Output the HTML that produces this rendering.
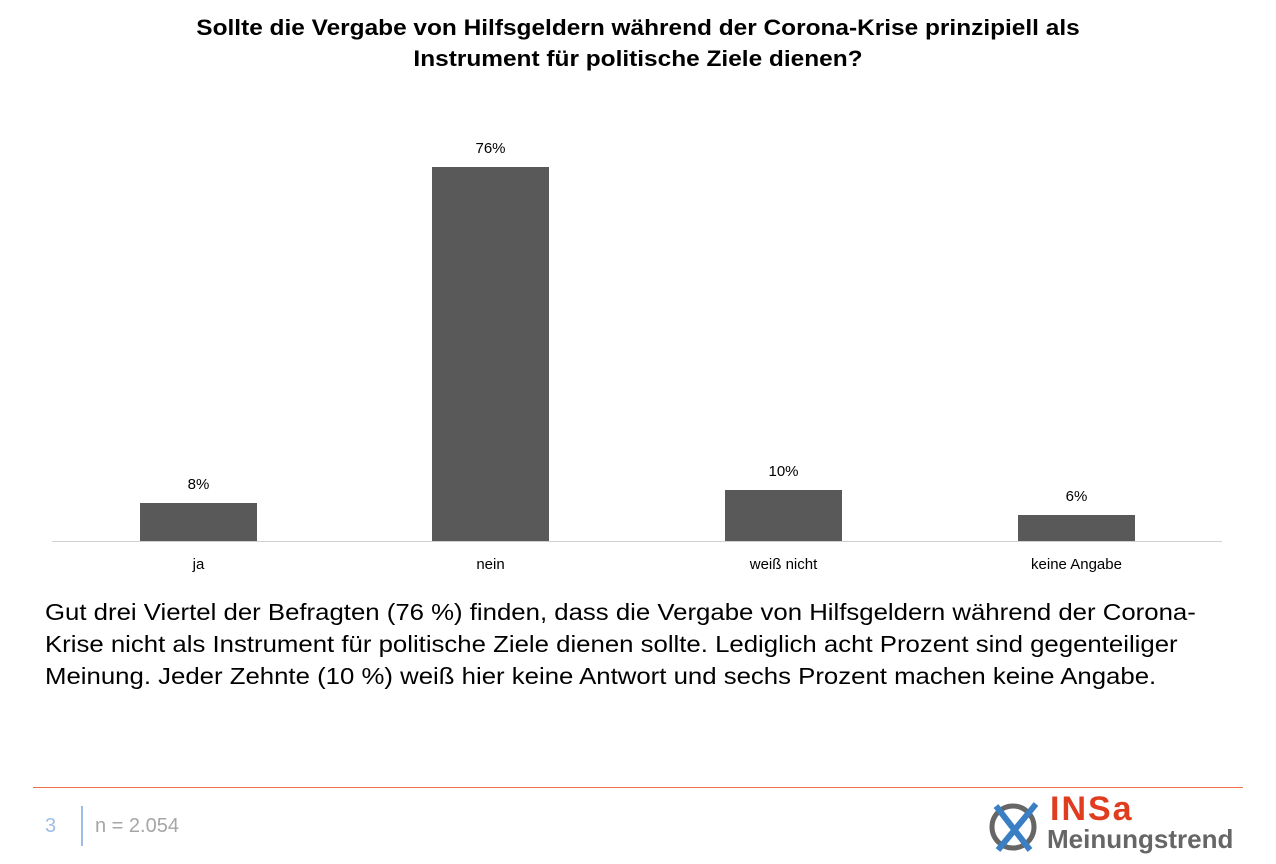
<!DOCTYPE html>
<html><head><meta charset="utf-8"><style>
body{margin:0;width:1276px;height:864px;background:#fff;font-family:"Liberation Sans",sans-serif;position:relative;overflow:hidden}
.a{position:absolute}
.t{left:0;width:1276px;text-align:center;font-weight:bold;font-size:22px;line-height:31px;top:12px;color:#000;transform:scaleX(1.11);transform-origin:638px 0}
.bar{position:absolute;background:#595959;width:117px}
.lab{position:absolute;width:117px;text-align:center;font-size:15px;color:#000}
.p{left:45px;top:596px;font-size:23px;line-height:32px;color:#000;width:1100px;white-space:nowrap;transform:scaleX(1.12);transform-origin:0 0}
</style></head><body>
<div class="a t">Sollte die Vergabe von Hilfsgeldern während der Corona-Krise prinzipiell als<br>Instrument für politische Ziele dienen?</div>
<div class="a" style="left:52px;top:541px;width:1170px;height:1px;background:#d0d0d0"></div>
<div class="bar" style="left:140px;top:503px;height:38px"></div>
<div class="bar" style="left:432px;top:167px;height:374px"></div>
<div class="bar" style="left:725px;top:490px;height:51px"></div>
<div class="bar" style="left:1018px;top:515px;height:26px"></div>
<div class="lab" style="left:140px;top:476px">8%</div>
<div class="lab" style="left:432px;top:140px">76%</div>
<div class="lab" style="left:725px;top:463px">10%</div>
<div class="lab" style="left:1018px;top:488px">6%</div>
<div class="lab" style="left:140px;top:556px">ja</div>
<div class="lab" style="left:432px;top:556px">nein</div>
<div class="lab" style="left:705px;top:556px;width:157px">weiß nicht</div>
<div class="lab" style="left:998px;top:556px;width:157px">keine Angabe</div>
<div class="a p">Gut drei Viertel der Befragten (76 %) finden, dass die Vergabe von Hilfsgeldern während der Corona-<br>Krise nicht als Instrument für politische Ziele dienen sollte. Lediglich acht Prozent sind gegenteiliger<br>Meinung. Jeder Zehnte (10 %) weiß hier keine Antwort und sechs Prozent machen keine Angabe.</div>
<div class="a" style="left:33px;top:787px;width:1210px;height:1px;background:#f07048"></div>
<div class="a" style="left:45px;top:815px;font-size:20px;color:#9dbde6">3</div>
<div class="a" style="left:81px;top:806px;width:2px;height:40px;background:#9dbde6"></div>
<div class="a" style="left:95px;top:815px;font-size:20px;color:#a6a6a6">n = 2.054</div>
<svg class="a" style="left:988px;top:798px" width="60" height="60" viewBox="0 0 60 60">
<circle cx="25" cy="29" r="21" fill="none" stroke="#666" stroke-width="5"/>
<line x1="8" y1="8" x2="42" y2="52" stroke="#3a7fc4" stroke-width="6"/>
<line x1="48" y1="6" x2="10" y2="52" stroke="#3a7fc4" stroke-width="6"/>
</svg>
<div class="a" style="left:1050px;top:791px;font-size:34px;font-weight:bold;color:#e03c1f;letter-spacing:2px;line-height:36px">INSa</div>
<div class="a" style="left:1047px;top:824px;font-size:26px;font-weight:bold;color:#666;line-height:30px">Meinungstrend</div>
</body></html>
